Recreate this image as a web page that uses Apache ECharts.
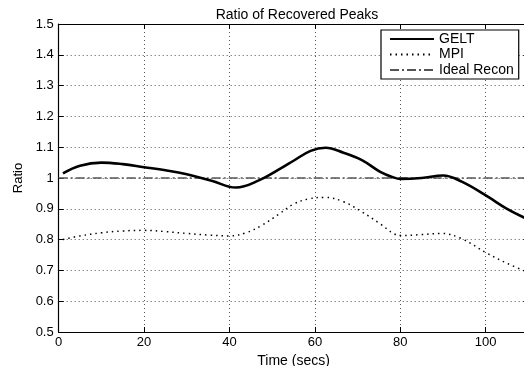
<!DOCTYPE html>
<html>
<head>
<meta charset="utf-8">
<script src="https://cdn.jsdelivr.net/npm/echarts@6/dist/echarts.min.js"></script>
<style>
html,body{margin:0;padding:0;background:#fff;}
#chart{width:524px;height:366px;}
</style>
</head>
<body>
<div id="chart"></div>
<script>
const titleText = 'Ratio of Recovered Peaks';
const xName = 'Time (secs)';
const yName = 'Ratio';
const seriesNames = ['GELT', 'MPI', 'Ideal Recon'];

const geltTime = [1, 5, 10, 15, 20, 25, 30, 36, 41.5, 47, 52, 55, 59, 62.5, 66.7, 71, 75.3, 78.4, 80, 85, 90, 94.4, 100.4, 105, 110];
const geltVals = [1.015, 1.04, 1.05, 1.045, 1.035, 1.025, 1.012, 0.99, 0.969, 0.993, 1.031, 1.056, 1.088, 1.098, 1.082, 1.058, 1.02, 1.002, 0.997, 1.0, 1.008, 0.988, 0.94, 0.9, 0.865];

const mpiTime = [1, 5, 10, 15, 20, 25, 30, 35, 40, 44, 47.4, 51.5, 55, 58.5, 62.3, 66.7, 71, 75.3, 78.4, 80, 84.8, 89.5, 94.2, 100.4, 105, 110];
const mpiVals = [0.8, 0.812, 0.822, 0.828, 0.83, 0.826, 0.82, 0.815, 0.812, 0.823, 0.845, 0.882, 0.915, 0.932, 0.937, 0.923, 0.89, 0.851, 0.82, 0.813, 0.816, 0.82, 0.804, 0.755, 0.723, 0.693];

const idealTime = [0, 110];
const idealVals = [1, 1];

const xMin = 0, xMax = 110, xStep = 20;
const yMin = 0.5, yMax = 1.5, yStep = 0.1;

const pair = (xs, ys) => xs.map((x, i) => [x, ys[i]]);

const font = 'Liberation Sans, Arial, Helvetica, sans-serif';
const chart = echarts.init(document.getElementById('chart'), null, {renderer: 'canvas'});

const axisCommon = {
  type: 'value',
  axisLine: {show: true, onZero: false, lineStyle: {color: '#000', width: 1.2}},
  axisTick: {show: true, inside: true, length: 5, lineStyle: {color: '#000'}},
};

chart.setOption({
  animation: false,
  backgroundColor: '#fff',
  title: {
    text: titleText, left: 292, top: 3, textAlign: 'center',
    textStyle: {fontFamily: font, fontSize: 14, fontWeight: 'normal', color: '#000'}
  },
  grid: {left: 58.7, top: 24, width: 469.7, height: 308, containLabel: false, outerBoundsMode: 'none'},
  legend: {
    orient: 'vertical', left: 381, top: 30,
    padding: [2, 5, 2, 8], itemGap: 1.5, itemWidth: 44, itemHeight: 14,
    borderColor: '#000', borderWidth: 1.2, backgroundColor: '#fff',
    itemStyle: {opacity: 0},
    textStyle: {fontFamily: font, fontSize: 14, color: '#000'},
    data: seriesNames
  },
  xAxis: [
    Object.assign({}, axisCommon, {
      min: xMin, max: xMax, interval: xStep, position: 'bottom',
      name: xName, nameLocation: 'middle', nameGap: 19,
      nameTextStyle: {fontFamily: font, fontSize: 14, color: '#000'},
      axisLabel: {fontFamily: font, fontSize: 13, color: '#000', margin: 4, showMaxLabel: false},
      splitLine: {show: true, lineStyle: {color: '#555', width: 1, type: [1, 3]}}
    }),
    Object.assign({}, axisCommon, {
      min: xMin, max: xMax, interval: xStep, position: 'top',
      axisLabel: {show: false}, splitLine: {show: false}
    })
  ],
  yAxis: [
    Object.assign({}, axisCommon, {
      min: yMin, max: yMax, interval: yStep, position: 'left',
      name: yName, nameLocation: 'middle', nameGap: 30,
      nameTextStyle: {fontFamily: font, fontSize: 13, color: '#000'},
      axisLabel: {fontFamily: font, fontSize: 13, color: '#000', margin: 5},
      splitLine: {show: true, lineStyle: {color: '#555', width: 1, type: [1, 3]}}
    }),
    Object.assign({}, axisCommon, {
      min: yMin, max: yMax, interval: yStep, position: 'right',
      axisLabel: {show: false}, splitLine: {show: false}
    })
  ],
  series: [
    {
      name: seriesNames[0], type: 'line', data: pair(geltTime, geltVals),
      smooth: 0.4, symbol: 'none', z: 5,
      lineStyle: {color: '#000', width: 2.6}, itemStyle: {color: '#000'}
    },
    {
      name: seriesNames[1], type: 'line', data: pair(mpiTime, mpiVals),
      smooth: 0.4, symbol: 'none', z: 4,
      lineStyle: {color: '#000', width: 1.5, type: [1.5, 4]}, itemStyle: {color: '#000'}
    },
    {
      name: seriesNames[2], type: 'line', data: pair(idealTime, idealVals),
      symbol: 'none', z: 3,
      lineStyle: {color: '#555', width: 1.5, type: [9, 3, 2, 3]}, itemStyle: {color: '#555'}
    }
  ]
});
</script>
</body>
</html>
